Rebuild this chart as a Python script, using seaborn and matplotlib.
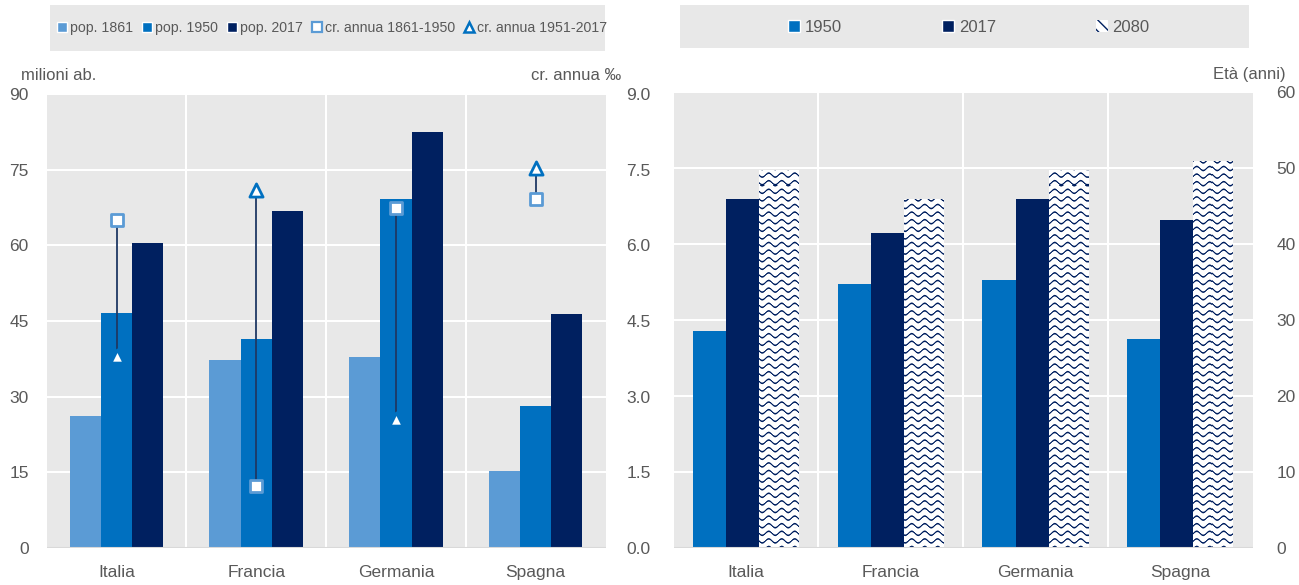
import numpy as np
import pandas as pd
import matplotlib
matplotlib.use("Agg")
import matplotlib.pyplot as plt
from matplotlib.patches import Rectangle, Patch
from matplotlib.lines import Line2D
from matplotlib.ticker import FixedLocator, FormatStrFormatter
import seaborn as sns

# ---- data ---------------------------------------------------------------
countries = ["Italia", "Francia", "Germania", "Spagna"]

# population, millions
pop_1861 = [26.2, 37.3, 37.9, 15.2]
pop_1950 = [46.6, 41.4, 69.2, 28.1]
pop_2017 = [60.5, 66.8, 82.4, 46.4]

# average annual growth, per mille
cr_1861_1950 = [6.50, 1.22, 6.75, 6.92]
cr_1951_2017 = [3.81, 7.10, 2.56, 7.53]

# median age, years
eta_1950 = [28.6, 34.7, 35.2, 27.5]
eta_2017 = [45.9, 41.4, 45.9, 43.2]
eta_2080 = [49.8, 45.9, 49.8, 50.9]

pop_labels = ["pop. 1861", "pop. 1950", "pop. 2017"]
cr_labels = ["cr. annua 1861-1950", "cr. annua 1951-2017"]
eta_labels = ["1950", "2017", "2080"]

# ---- style --------------------------------------------------------------
C_LIGHT = "#5B9BD5"
C_MID = "#0070C0"
C_DARK = "#002060"
C_TEXT = "#595959"
C_BG = "#E8E8E8"

sns.set_style("darkgrid", {"axes.facecolor": C_BG, "grid.color": "white",
                           "axes.edgecolor": C_BG})
plt.rcParams["font.family"] = ["Liberation Sans", "DejaVu Sans"]
plt.rcParams["text.color"] = C_TEXT
plt.rcParams["xtick.color"] = C_TEXT
plt.rcParams["ytick.color"] = C_TEXT

TICK_FS = 12.5

W, H = 1299, 585
fig = plt.figure(figsize=(W / 100, H / 100), dpi=100)

def fx(px):
    return px / W

def fy(py):
    return 1 - py / H

ax1 = fig.add_axes([fx(46.7), fy(548), fx(605.5 - 46.7), (548 - 94) / H])
ax3 = fig.add_axes([fx(673.5), fy(548), fx(1252.6 - 673.5), (548 - 92) / H])

# ---- left: population bars + growth markers ----------------------------
df_pop = pd.DataFrame({
    "paese": countries * 3,
    "serie": np.repeat(pop_labels, len(countries)),
    "valore": pop_1861 + pop_1950 + pop_2017,
})
sns.barplot(data=df_pop, x="paese", y="valore", hue="serie",
            palette=[C_LIGHT, C_MID, C_DARK], saturation=1, width=0.67,
            errorbar=None, legend=False, ax=ax1, linewidth=0, zorder=2)

ax1.set_xlim(-0.5, 3.5)
ax1.set_ylim(0, 90)
ax1.yaxis.set_major_locator(FixedLocator(np.arange(0, 91, 15)))
ax1.set_xlabel("")
ax1.set_ylabel("")

ax2 = ax1.twinx()
pos = np.arange(len(countries))
lo = np.minimum(cr_1861_1950, cr_1951_2017)
hi = np.maximum(cr_1861_1950, cr_1951_2017)
ax2.vlines(pos, lo, hi, color="#1F3864", lw=1.3, zorder=2)
sns.scatterplot(x=pos, y=cr_1861_1950, marker="s", s=80, color="white",
                edgecolor=C_LIGHT, linewidth=2.0, ax=ax2, zorder=3)
sns.scatterplot(x=pos, y=cr_1951_2017, marker="^", s=90, color="white",
                edgecolor=C_MID, linewidth=2.0, ax=ax2, zorder=3)
ax2.set_ylim(0, 9)
ax2.yaxis.set_major_locator(FixedLocator(np.arange(0, 9.01, 1.5)))
ax2.yaxis.set_major_formatter(FormatStrFormatter("%.1f"))
ax2.grid(False)
ax2.set_ylabel("")

# ---- right: median age bars --------------------------------------------
df_eta = pd.DataFrame({
    "paese": countries * 3,
    "serie": np.repeat(eta_labels, len(countries)),
    "valore": eta_1950 + eta_2017 + eta_2080,
})
sns.barplot(data=df_eta, x="paese", y="valore", hue="serie",
            palette=[C_MID, C_DARK, "white"], saturation=1, width=0.687,
            errorbar=None, legend=False, ax=ax3, linewidth=0, zorder=2)
ax3.set_xlim(-0.5, 3.5)
ax3.set_ylim(0, 60)
ax3.yaxis.set_major_locator(FixedLocator(np.arange(0, 61, 10)))
ax3.yaxis.tick_right()
ax3.set_xlabel("")
ax3.set_ylabel("")

# the patterned series is drawn a little wider than the solid ones
for bar in ax3.containers[0].patches + ax3.containers[1].patches:
    bar.set_x(bar.get_x() - 0.023)
for bar in ax3.containers[2].patches:
    bar.set_x(bar.get_x() - 0.024)
    bar.set_width(bar.get_width() + 0.044)

# wave texture for the 2080 bars
def wave_texture(w_px, h_px, period=13.0, spacing=7.6, amp=2.0, lw=1.6,
                 strength=1.0):
    c = np.arange(w_px)[None, :]
    r = np.arange(h_px)[:, None]
    ph = (r + amp * np.sin(2 * np.pi * c / period)) % spacing
    d = np.minimum(ph, spacing - ph)
    a = strength * np.clip(lw / 2 + 0.5 - d, 0, 1)[..., None]
    navy = np.array([0.0, 0.125, 0.376])
    white = np.ones(3)
    return white * (1 - a) + navy * a

tex = wave_texture(int(1252.6 - 673.5), 456)
for bar in ax3.containers[2].patches:
    im = ax3.imshow(tex, extent=(-0.5, 3.5, 0, 60), aspect="auto",
                    interpolation="nearest", origin="upper", zorder=2.5)
    im.set_clip_path(bar)
ax3.set_xlim(-0.5, 3.5)
ax3.set_ylim(0, 60)

# ---- shared axis cosmetics ---------------------------------------------
for ax in (ax1, ax3):
    ax.set_xticks(pos)
    ax.set_xticklabels(countries)
    ax.xaxis.set_minor_locator(FixedLocator([0.5, 1.5, 2.5]))
    ax.grid(True, which="major", axis="y", color="white", lw=1.5)
    ax.grid(True, which="minor", axis="x", color="white", lw=1.5)
    ax.grid(False, which="major", axis="x")
    ax.axhline(0, color="#D9D9D9", lw=1.5, zorder=3)
    ax.tick_params(axis="both", which="both", length=0, labelsize=TICK_FS)
    ax.tick_params(axis="x", pad=12)
    for s in ax.spines.values():
        s.set_visible(False)
ax1.tick_params(axis="y", pad=13)
ax2.tick_params(axis="y", length=0, labelsize=TICK_FS, pad=15, colors=C_TEXT)
ax3.tick_params(axis="y", pad=17)
for s in ax2.spines.values():
    s.set_visible(False)

# ---- axis titles --------------------------------------------------------
fig.text(fx(21), fy(75), "milioni ab.", ha="left", va="center", fontsize=12)
fig.text(fx(621), fy(75), "cr. annua \u2030", ha="right", va="center", fontsize=12)
fig.text(fx(1286), fy(74), "Età (anni)", ha="right", va="center", fontsize=12)

# ---- legends ------------------------------------------------------------
fig.patches.append(Rectangle((fx(50), fy(51)), fx(555), 46 / H,
                             transform=fig.transFigure, facecolor=C_BG,
                             edgecolor="none", zorder=0))
fig.patches.append(Rectangle((fx(680), fy(48)), fx(569), 43 / H,
                             transform=fig.transFigure, facecolor=C_BG,
                             edgecolor="none", zorder=0))

h_left = [
    Patch(facecolor=C_LIGHT, label=pop_labels[0]),
    Patch(facecolor=C_MID, label=pop_labels[1]),
    Patch(facecolor=C_DARK, label=pop_labels[2]),
    Line2D([], [], ls="none", marker="s", ms=7, mfc="white", mec=C_LIGHT,
           mew=1.6, label=cr_labels[0]),
    Line2D([], [], ls="none", marker="^", ms=7.5, mfc="white", mec=C_MID,
           mew=1.8, label=cr_labels[1]),
]
fig.legend(handles=h_left, loc="center", bbox_to_anchor=(fx(332), fy(28)),
           ncol=5, frameon=False, fontsize=10.2, handlelength=0.7,
           handleheight=0.7, handletextpad=0.25, columnspacing=0.6,
           labelcolor=C_TEXT)

h_right = [
    Patch(facecolor=C_MID, label=eta_labels[0]),
    Patch(facecolor=C_DARK, label=eta_labels[1]),
    Patch(facecolor="white", edgecolor=C_DARK, hatch="\\\\\\", lw=0,
          label=eta_labels[2]),
]
fig.legend(handles=h_right, loc="center", bbox_to_anchor=(fx(969), fy(27)),
           ncol=3, frameon=False, fontsize=12, handlelength=0.7,
           handleheight=0.7, handletextpad=0.3, columnspacing=6.0,
           labelcolor=C_TEXT)

fig.savefig("out.png", dpi=100, facecolor="white")
